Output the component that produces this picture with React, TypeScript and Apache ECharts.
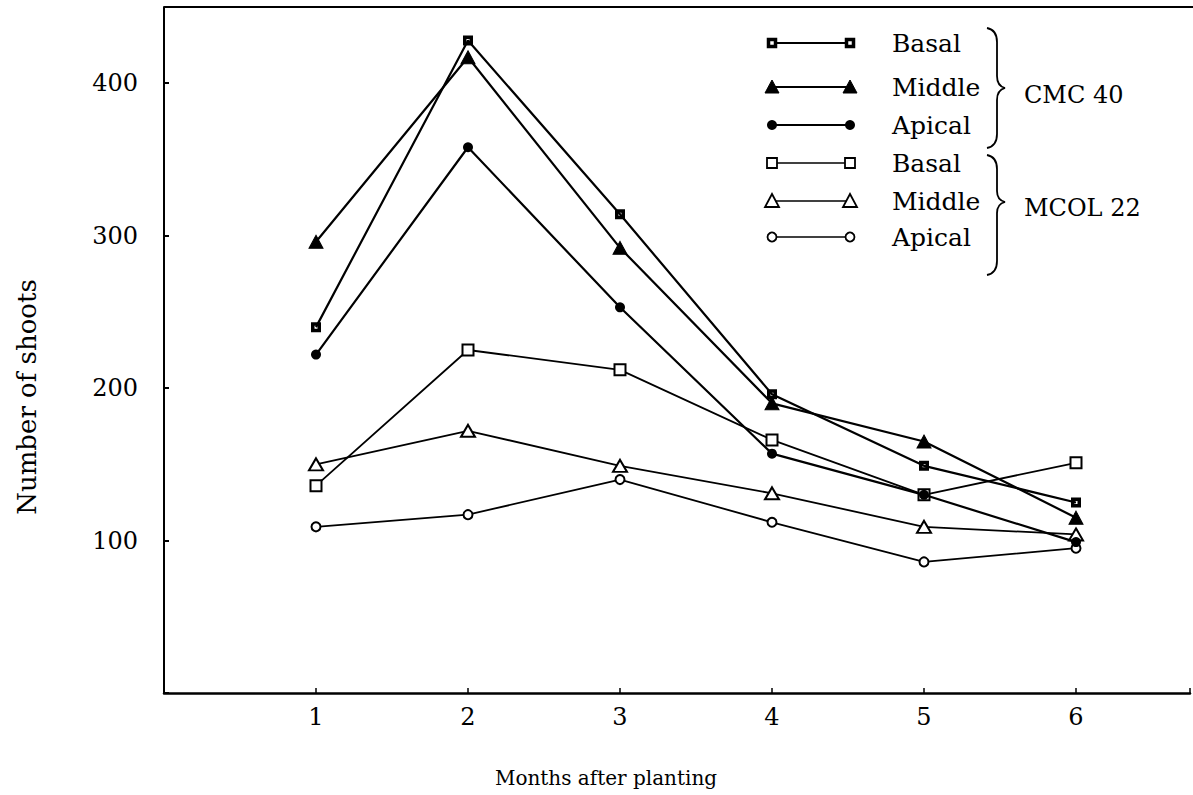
import React, { useEffect, useRef } from "react";
import * as echarts from "echarts";

const months = [1, 2, 3, 4, 5, 6];
const cmcBasal = [240, 428, 314, 196, 149, 125];
const cmcMiddle = [296, 417, 292, 190, 165, 115];
const cmcApical = [222, 358, 253, 157, 130, 99];
const mcolBasal = [136, 225, 212, 166, 130, 151];
const mcolMiddle = [150, 172, 149, 131, 109, 104];
const mcolApical = [109, 117, 140, 112, 86, 95];

const rowLabels = ["Basal", "Middle", "Apical", "Basal", "Middle", "Apical"];
const groupLabels = ["CMC 40", "MCOL 22"];
const xTitle = "Months after planting";
const yTitle = "Number of shoots";

const FONT = "DejaVu Serif";
const HOLLOW_SQUARE = "path://M0,0 L10,0 L10,10 L0,10 Z M3.5,3.5 L3.5,6.5 L6.5,6.5 L6.5,3.5 Z";

echarts.graphic.registerShape(
  "brace1",
  echarts.graphic.extendPath("M0 0 Q10 2 10 14 L10 48 Q10 58 18 60 Q10 62 10 72 L10 106 Q10 118 0 120", {})
);
echarts.graphic.registerShape(
  "brace2",
  echarts.graphic.extendPath("M0 0 Q10 2 10 14 L10 36 Q10 45 18 47 Q10 49 10 58 L10 106 Q10 118 0 120", {})
);

const pairs = (vals: number[]) => months.map((m, i) => [m, vals[i]]);

export default function App() {
  const ref = useRef<HTMLDivElement>(null);
  useEffect(() => {
    if (!ref.current) return;
    const chart = echarts.init(ref.current, null, { renderer: "svg" });
    const black = "#000";
    const mkSeries = (name: string, vals: number[], symbol: string, size: any, filled: boolean, lw: number, bw: number) => ({
      name,
      type: "line",
      data: pairs(vals),
      symbol,
      symbolSize: size,
      showSymbol: true,
      lineStyle: { color: black, width: lw },
      itemStyle: { color: black, borderColor: black, borderWidth: bw },
      emphasis: { disabled: true },
      z: filled ? 3 : 2,
    });

    const legendRows = [43, 87, 125, 163, 201, 237];
    const lx1 = 772;
    const lx2 = 850;
    const marker = (kind: number, x: number, y: number) => {
      switch (kind) {
        case 0:
          return { type: "rect", shape: { x: x - 3.5, y: y - 3.5, width: 7, height: 7 }, style: { fill: "#fff", stroke: black, lineWidth: 3.5 } };
        case 1:
          return { type: "polygon", shape: { points: [[x - 7, y + 6], [x + 7, y + 6], [x, y - 7]] }, style: { fill: black, stroke: black, lineWidth: 1 } };
        case 2:
          return { type: "circle", shape: { cx: x, cy: y, r: 5 }, style: { fill: black } };
        case 3:
          return { type: "rect", shape: { x: x - 5, y: y - 5, width: 10, height: 10 }, style: { fill: "#fff", stroke: black, lineWidth: 1.8 } };
        case 4:
          return { type: "polygon", shape: { points: [[x - 7, y + 6], [x + 7, y + 6], [x, y - 7]] }, style: { fill: "#fff", stroke: black, lineWidth: 1.8 } };
        default:
          return { type: "circle", shape: { cx: x, cy: y, r: 4.5 }, style: { fill: "#fff", stroke: black, lineWidth: 1.8 } };
      }
    };
    const legendEls: any[] = [];
    legendRows.forEach((y, i) => {
      legendEls.push({ type: "line", shape: { x1: lx1, y1: y, x2: lx2, y2: y }, style: { stroke: black, lineWidth: i < 3 ? 2.2 : 1.6 } });
      legendEls.push(marker(i, lx1, y));
      legendEls.push(marker(i, lx2, y));
      legendEls.push({
        type: "text",
        x: 892,
        y,
        style: { text: rowLabels[i], fontFamily: FONT, fontSize: 25, fill: black, align: "left", verticalAlign: "middle" },
      });
    });
    legendEls.push({ type: "brace1", x: 987, y: 28, style: { stroke: black, fill: "none", lineWidth: 1.8 } });
    legendEls.push({ type: "brace2", x: 987, y: 155, style: { stroke: black, fill: "none", lineWidth: 1.8 } });
    legendEls.push({ type: "text", x: 1024, y: 95, style: { text: groupLabels[0], fontFamily: FONT, fontSize: 24, fill: black, align: "left", verticalAlign: "middle" } });
    legendEls.push({ type: "text", x: 1024, y: 208, style: { text: groupLabels[1], fontFamily: FONT, fontSize: 24, fill: black, align: "left", verticalAlign: "middle" } });
    legendEls.push({ type: "line", shape: { x1: 164, y1: 7, x2: 1193, y2: 7 }, style: { stroke: black, lineWidth: 2 } });
    legendEls.push({ type: "text", x: 606, y: 778, style: { text: xTitle, fontFamily: FONT, fontSize: 20, fill: black, align: "center", verticalAlign: "middle" } });
    legendEls.push({ type: "text", x: 27, y: 397, rotation: Math.PI / 2, style: { text: yTitle, fontFamily: FONT, fontSize: 26, fill: black, align: "center", verticalAlign: "middle" } });

    chart.setOption({
      animation: false,
      backgroundColor: "#fff",
      grid: { left: 164, right: 0, top: 7, bottom: 102, containLabel: false },
      xAxis: {
        type: "value",
        min: 0,
        max: 6.75,
        interval: 1,
        axisLine: { show: true, lineStyle: { color: black, width: 2.5 } },
        axisTick: { show: true, inside: true, length: 5, lineStyle: { color: black, width: 1.5 } },
        axisLabel: {
          margin: 12,
          fontFamily: FONT,
          fontSize: 24,
          color: black,
          formatter: (v: number) => (Number.isInteger(v) && v > 0 && v <= 6 ? String(v) : ""),
        },
        splitLine: { show: false },
      },
      yAxis: {
        type: "value",
        min: 0,
        max: 450,
        interval: 100,
        axisLine: { show: true, lineStyle: { color: black, width: 2 } },
        axisTick: { show: true, inside: true, length: 5, lineStyle: { color: black, width: 2 } },
        axisLabel: {
          margin: 26,
          fontFamily: FONT,
          fontSize: 24,
          color: black,
          formatter: (v: number) => (v > 0 && v % 100 === 0 ? String(v) : ""),
        },
        splitLine: { show: false },
      },
      series: [
        mkSeries("CMC 40 Basal", cmcBasal, HOLLOW_SQUARE, 10, true, 2.2, 0),
        mkSeries("CMC 40 Middle", cmcMiddle, "triangle", [14, 13], true, 2.2, 1),
        mkSeries("CMC 40 Apical", cmcApical, "circle", 10, true, 2.2, 0),
        mkSeries("MCOL 22 Basal", mcolBasal, "emptyRect", 11, false, 1.8, 1.8),
        mkSeries("MCOL 22 Middle", mcolMiddle, "emptyTriangle", [14, 12], false, 1.8, 1.8),
        mkSeries("MCOL 22 Apical", mcolApical, "emptyCircle", 9, false, 1.8, 1.8),
      ],
      graphic: legendEls,
    });
    return () => chart.dispose();
  }, []);
  return <div ref={ref} style={{ position: "absolute", left: 0, top: 0, width: 1193, height: 795 }} />;
}
